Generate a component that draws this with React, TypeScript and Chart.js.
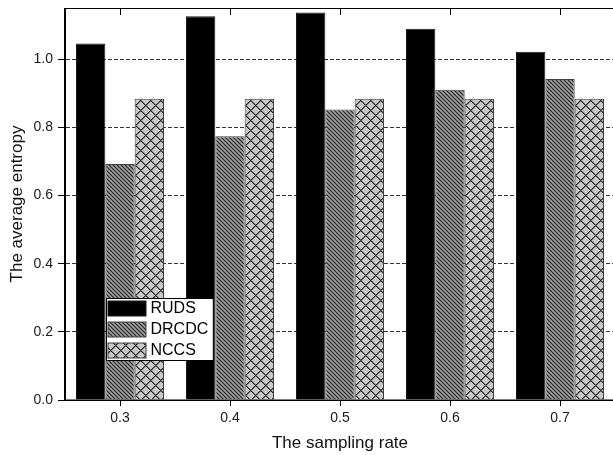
import React, { useEffect, useRef } from "react";
import { Chart, registerables } from "chart.js";

Chart.register(...registerables);

const categories = ["0.3", "0.4", "0.5", "0.6", "0.7"];
const seriesNames = ["RUDS", "DRCDC", "NCCS"];
const rudsValues = [1.046, 1.126, 1.137, 1.089, 1.022];
const drcdcValues = [0.692, 0.774, 0.852, 0.91, 0.942];
const nccsValues = [0.884, 0.884, 0.884, 0.884, 0.884];
const yTickValues = [0, 0.2, 0.4, 0.6, 0.8, 1.0];
const yMax = 1.15;
const xTitle = "The sampling rate";
const yTitle = "The average entropy";

const FONT = "'Liberation Sans', Arial, sans-serif";

function makePattern(kind: "diag" | "cross"): CanvasPattern | string {
  const size = kind === "diag" ? 4 : 10;
  const c = document.createElement("canvas");
  c.width = size;
  c.height = size;
  const ctx = c.getContext("2d");
  if (!ctx) return "#888";
  const img = ctx.createImageData(size, size);
  for (let y = 0; y < size; y++) {
    for (let x = 0; x < size; x++) {
      let g: number;
      if (kind === "diag") {
        const d = (((x - y) % 4) + 4) % 4;
        g = d === 0 ? 0x2a : d === 2 ? 0xa4 : 0x78;
      } else {
        const d1 = (x + y) % 10;
        const d2 = (((x - y) % 10) + 10) % 10;
        if (d1 === 0 || d2 === 0) g = 0x22;
        else if (d1 === 1 || d2 === 1) g = 0x74;
        else g = 0xc8;
      }
      const i = (y * size + x) * 4;
      img.data[i] = g;
      img.data[i + 1] = g;
      img.data[i + 2] = g;
      img.data[i + 3] = 255;
    }
  }
  ctx.putImageData(img, 0, 0);
  return ctx.createPattern(c, "repeat") || "#888";
}

const framePlugin = {
  id: "frame",
  afterDatasetsDraw(chart: any) {
    const { ctx, chartArea } = chart;
    const xs = chart.scales.x;
    ctx.save();
    ctx.strokeStyle = "#000";
    ctx.lineWidth = 1;
    ctx.strokeRect(
      Math.round(chartArea.left) - 0.5,
      Math.round(chartArea.top) + 0.5,
      Math.round(chartArea.right - chartArea.left),
      Math.round(chartArea.bottom - chartArea.top) - 0.5
    );
    ctx.beginPath();
    categories.forEach((_, i) => {
      const px = Math.round(xs.getPixelForValue(i)) + 0.5;
      ctx.moveTo(px, chartArea.top);
      ctx.lineTo(px, chartArea.top + 7);
    });
    ctx.stroke();
    ctx.restore();
  },
};

const legendPlugin = {
  id: "boxLegend",
  afterDraw(chart: any) {
    const { ctx, chartArea } = chart;
    const x0 = Math.round(chartArea.left + 41) + 0.5;
    const y0 = Math.round(chartArea.top + 290) + 0.5;
    ctx.save();
    ctx.font = `16px ${FONT}`;
    const datasets = chart.data.datasets;
    let maxW = 0;
    datasets.forEach((d: any) => {
      maxW = Math.max(maxW, ctx.measureText(d.label).width);
    });
    const sw = 38;
    const sh = 15;
    const rowH = 21.3;
    const w = 2 + sw + 5 + maxW + 4;
    const h = 62;
    ctx.fillStyle = "#fff";
    ctx.fillRect(x0, y0, w, h);
    ctx.strokeStyle = "#000";
    ctx.lineWidth = 1;
    ctx.strokeRect(x0, y0, w, h);
    datasets.forEach((d: any, i: number) => {
      const sy = Math.round(y0 + 2 + i * rowH);
      const sx = x0 + 1.5;
      ctx.fillStyle = d.backgroundColor;
      ctx.fillRect(sx, sy, sw, sh);
      ctx.strokeStyle = d.borderColor;
      ctx.strokeRect(sx, sy, sw, sh);
      ctx.fillStyle = "#000";
      ctx.textBaseline = "middle";
      ctx.textAlign = "left";
      ctx.fillText(d.label, x0 + 2 + sw + 4, sy + sh / 2 + 0.5);
    });
    ctx.restore();
  },
};

export default function App() {
  const canvasRef = useRef<HTMLCanvasElement | null>(null);

  useEffect(() => {
    const canvas = canvasRef.current;
    if (!canvas) return;
    Chart.defaults.font.family = FONT;
    const diag = makePattern("diag");
    const cross = makePattern("cross");
    const fills = ["#000000", diag, cross];
    const borders = ["#1a1a1a", "#404040", "#404040"];
    const values = [rudsValues, drcdcValues, nccsValues];

    const chart = new Chart(canvas, {
      type: "bar",
      data: {
        labels: categories,
        datasets: seriesNames.map((name, i) => ({
          label: name,
          data: values[i],
          backgroundColor: fills[i] as any,
          borderColor: borders[i],
          borderWidth: 1,
          categoryPercentage: 0.8,
          barPercentage: 1.0,
        })),
      },
      options: {
        animation: false,
        responsive: false,
        maintainAspectRatio: false,
        layout: { padding: { top: 8, right: 10, left: 0, bottom: 0 } },
        plugins: {
          legend: { display: false },
          tooltip: { enabled: false },
        },
        scales: {
          x: {
            type: "category",
            offset: true,
            grid: {
              offset: false,
              drawOnChartArea: false,
              tickLength: 6,
              tickColor: "#000",
              color: "#000",
            },
            border: { display: true, color: "#000", width: 1 },
            ticks: {
              color: "#1a1a1a",
              font: { size: 14, family: FONT },
              padding: 4,
              maxRotation: 0,
            },
            title: {
              display: true,
              text: xTitle,
              color: "#111",
              font: { size: 17, family: FONT },
              padding: { top: 0, bottom: 1 },
            },
            afterFit: (scale: any) => {
              scale.height = 55;
              scale.paddingLeft = 0;
              scale.paddingRight = 0;
            },
          },
          y: {
            type: "linear",
            min: 0,
            max: yMax,
            afterBuildTicks: (scale: any) => {
              scale.ticks = yTickValues.map((v) => ({ value: v }));
            },
            grid: {
              color: "#333",
              lineWidth: 1,
              tickLength: 7,
              tickColor: "#000",
              tickBorderDash: [],
            },
            border: { display: true, color: "#000", width: 1, dash: [4, 2] },
            ticks: {
              color: "#1a1a1a",
              font: { size: 14, family: FONT },
              padding: 5,
              callback: (v: any) => Number(v).toFixed(1),
            },
            title: {
              display: true,
              text: yTitle,
              color: "#111",
              font: { size: 17, family: FONT },
              padding: { top: 7, bottom: 0 },
            },
            afterFit: (scale: any) => {
              scale.width = 65;
              scale.paddingTop = 0;
              scale.paddingBottom = 0;
            },
          },
        },
      } as any,
      plugins: [framePlugin, legendPlugin],
    });
    return () => chart.destroy();
  }, []);

  return (
    <div
      style={{
        position: "fixed",
        left: 0,
        top: 0,
        width: 613,
        height: 455,
        overflow: "hidden",
        background: "#fff",
      }}
    >
      <canvas
        ref={canvasRef}
        width={625}
        height={455}
        style={{ width: 625, height: 455, display: "block" }}
      />
    </div>
  );
}
